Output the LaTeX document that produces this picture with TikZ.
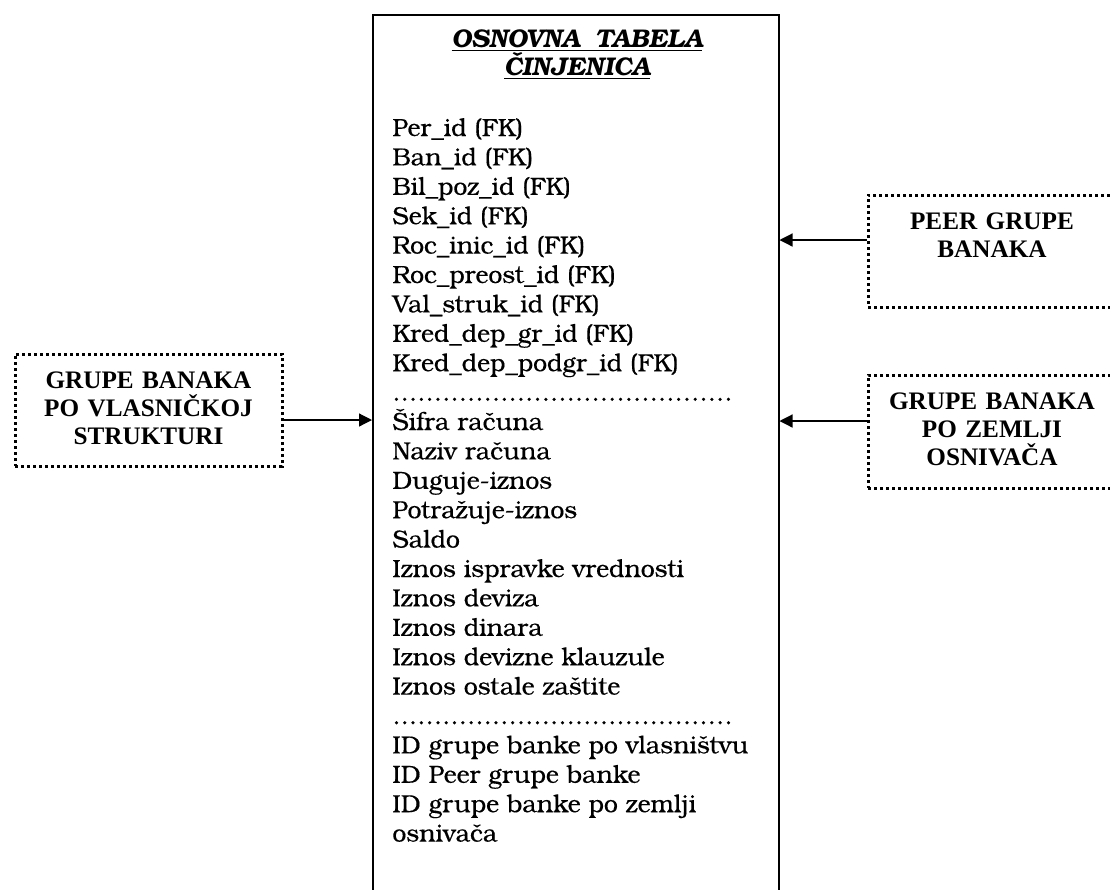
\documentclass[tikz,border=0pt]{standalone}
\usepackage{fontspec}
\setmainfont{texgyrebonum}[Extension=.otf, UprightFont=*-regular, UprightFeatures={FakeBold=0.4}, BoldFont=*-bold, ItalicFont=*-italic, BoldItalicFont=*-bolditalic]
\newfontfamily\dimtabfont{Liberation Serif}[BoldFont={Liberation Serif Bold}]
\newcommand\dimtab{\dimtabfont\bfseries\fontsize{12.6}{14}\selectfont}
\usetikzlibrary{arrows.meta,calc}

% a row of leader dots separating the groups of columns
\newcommand\dotrow{\hbox to 170.5pt{\leaders\hbox to 4.15pt{\hss.\hss}\hfill}}

\begin{document}
\begin{tikzpicture}[x=0.5pt,y=-0.5pt,
  framebox/.style={draw, line width=0.75pt, minimum width=203pt, minimum height=450pt, anchor=north west, inner sep=0pt},
  sidebox/.style={draw, line width=1.5pt, dash pattern=on 1.5pt off 1.5pt, minimum height=56pt, inner sep=0pt},
  sidetext/.style={font=\fontsize{12.6}{14}\selectfont, text width=130pt, align=center, anchor=base, inner sep=0pt},
  field/.style={font=\fontsize{12.4}{14.7}\selectfont, anchor=base west, inner sep=0pt},
  titletext/.style={font=\bfseries\itshape\fontsize{12.8}{14}\selectfont, anchor=base, inner sep=0pt},
  conn/.style={line width=0.6pt, -{Triangle[length=6.5pt,width=6.5pt]}}]

\useasboundingbox (0,0) rectangle (1110,890);
\clip (0,0) rectangle (1110,890);

% fact table (open at the bottom of the page)
\node[framebox] (fact) at (372,14) {};
\node[titletext] (t1) at (577,47.3) {\underline{OSNOVNA\hspace{0.6em}TABELA}};
\node[titletext] (t2) at (577,75) {\underline{ČINJENICA}};

\foreach \txt [count=\i from 0] in {
  Per\_id (FK), Ban\_id (FK), Bil\_poz\_id (FK), Sek\_id (FK),
  Roc\_inic\_id (FK), Roc\_preost\_id (FK), Val\_struk\_id (FK),
  Kred\_dep\_gr\_id (FK), Kred\_dep\_podgr\_id (FK), \dotrow,
  Šifra računa, Naziv računa, Duguje-iznos, Potražuje-iznos, Saldo,
  Iznos ispravke vrednosti, Iznos deviza, Iznos dinara,
  Iznos devizne klauzule, Iznos ostale zaštite, \dotrow,
  ID grupe banke po vlasništvu, ID Peer grupe banke,
  ID grupe banke po zemlji, osnivača}
  \node[field] (f\i) at (392,{136+29.4*\i}) {\txt};

% dimension tables
\node[sidebox, minimum width=133.5pt] (own) at (148.5,410) {};
\node[sidetext] (ownT) at ([yshift=11pt]own.center) {\dimtab GRUPE BANAKA\\PO VLASNIČKOJ\\STRUKTURI};

\node[sidebox, minimum width=124pt] (peer) at (992,251) {};
\node[sidetext] (peerT) at ([yshift=11pt]peer.center) {\dimtab PEER GRUPE\\BANAKA};

\node[sidebox, minimum width=124pt, minimum height=56.5pt] (land) at (992,431.5) {};
\node[sidetext] (landT) at ([yshift=11pt]land.center) {\dimtab GRUPE BANAKA\\PO ZEMLJI\\OSNIVAČA};

% links to the fact table
\coordinate (ownOut) at ([yshift=-5pt]own.east);
\draw[conn] (ownOut) -- (ownOut -| fact.west);
\coordinate (peerOut) at ([yshift=5.5pt]peer.west);
\draw[conn] (peerOut) -- (peerOut -| fact.east);
\coordinate (landOut) at ([yshift=5.25pt]land.west);
\draw[conn] (landOut) -- (landOut -| fact.east);
\end{tikzpicture}
\end{document}
